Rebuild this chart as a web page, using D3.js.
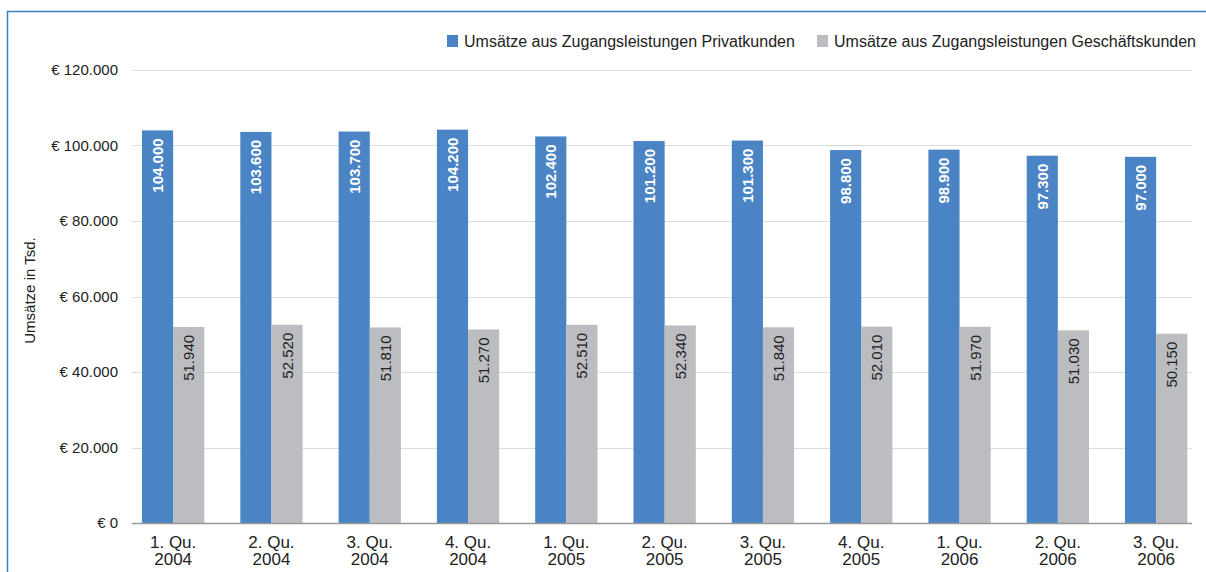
<!DOCTYPE html>
<html>
<head>
<meta charset="utf-8">
<title>Umsätze aus Zugangsleistungen</title>
<script src="https://cdn.jsdelivr.net/npm/d3@7"></script>
<style>
  body { margin: 0; background: #fff; }
  svg { font-family: "Liberation Sans", Arial, Helvetica, sans-serif; }
  .grid line { stroke: #dcdcdc; stroke-width: 1.2px; }
  .tick-label { font-size: 15px; fill: #222; text-anchor: end; }
  .xlab { font-size: 17px; fill: #222; text-anchor: middle; }
</style>
</head>
<body>
<svg id="chart" width="1206" height="572"></svg>
<script>
// Daten
var quartale = ["1. Qu.|2004", "2. Qu.|2004", "3. Qu.|2004", "4. Qu.|2004",
                "1. Qu.|2005", "2. Qu.|2005", "3. Qu.|2005", "4. Qu.|2005",
                "1. Qu.|2006", "2. Qu.|2006", "3. Qu.|2006"];
var privatkunden = [104000, 103600, 103700, 104200, 102400, 101200, 101300, 98800, 98900, 97300, 97000];
var geschaeftskunden = [51940, 52520, 51810, 51270, 52510, 52340, 51840, 52010, 51970, 51030, 50150];
var serienNamen = ["Umsätze aus Zugangsleistungen Privatkunden", "Umsätze aus Zugangsleistungen Geschäftskunden"];
var farben = ["#4a84c4", "#bcbdc1"];
var yTicks = [0, 20000, 40000, 60000, 80000, 100000, 120000];

var svg = d3.select("#chart");
var plotLeft = 132, plotRight = 1192, plotTop = 70, plotBottom = 523;

// Rahmen (blaue Linie links und oben)
svg.append("path")
   .attr("d", "M7.5,572 L7.5,11.5 L1206,11.5")
   .attr("fill", "none")
   .attr("stroke", "#3b7cc0")
   .attr("stroke-width", 1.5);

var y = d3.scaleLinear().domain([0, 120000]).range([plotBottom, plotTop]);

var step = 98.3;
var x0 = d3.scaleBand()
           .domain(quartale)
           .range([124, 124 + step * quartale.length])
           .paddingInner(36 / step)
           .paddingOuter(18 / step);
var x1 = d3.scaleBand()
           .domain([0, 1])
           .range([0, x0.bandwidth()]);

var fmt = function(v) { return d3.format(",")(v).replace(/,/g, "."); };

// Gitterlinien
svg.append("g").attr("class", "grid")
   .selectAll("line")
   .data(yTicks.filter(function(t) { return t > 0; }))
   .enter().append("line")
   .attr("x1", plotLeft).attr("x2", plotRight)
   .attr("y1", function(d) { return Math.round(y(d)) + 0.5; })
   .attr("y2", function(d) { return Math.round(y(d)) + 0.5; });

// y-Achsenbeschriftung
svg.append("g")
   .selectAll("text")
   .data(yTicks)
   .enter().append("text")
   .attr("class", "tick-label")
   .attr("x", 118)
   .attr("y", function(d) { return y(d) + 5; })
   .text(function(d) { return "€ " + fmt(d); });

svg.append("text")
   .attr("transform", "translate(35," + ((plotTop + plotBottom) / 2 - 6) + ") rotate(-90)")
   .attr("text-anchor", "middle")
   .attr("font-size", "15px")
   .attr("fill", "#222")
   .text("Umsätze in Tsd.");

// Balken
var serien = [privatkunden, geschaeftskunden];
var groups = svg.append("g")
   .selectAll("g")
   .data(quartale)
   .enter().append("g")
   .attr("transform", function(d) { return "translate(" + x0(d) + ",0)"; });

groups.selectAll("rect")
   .data(function(d, i) { return serien.map(function(s, k) { return {k: k, v: s[i]}; }); })
   .enter().append("rect")
   .attr("x", function(d) { return x1(d.k); })
   .attr("width", x1.bandwidth())
   .attr("y", function(d) { return y(d.v); })
   .attr("height", function(d) { return plotBottom - y(d.v); })
   .attr("fill", function(d) { return farben[d.k]; });

groups.selectAll("text.val")
   .data(function(d, i) { return serien.map(function(s, k) { return {k: k, v: s[i]}; }); })
   .enter().append("text")
   .attr("class", "val")
   .attr("transform", function(d) {
     return "translate(" + (x1(d.k) + x1.bandwidth() / 2 + 5.5) + "," + (y(d.v) + 8) + ") rotate(-90)";
   })
   .attr("text-anchor", "end")
   .attr("font-size", "15px")
   .attr("font-weight", function(d) { return d.k == 0 ? "bold" : "normal"; })
   .attr("fill", function(d) { return d.k == 0 ? "#fff" : "#222"; })
   .text(function(d) { return fmt(d.v); });

// x-Achse
svg.append("line")
   .attr("x1", plotLeft).attr("x2", plotRight)
   .attr("y1", plotBottom + 0.5).attr("y2", plotBottom + 0.5)
   .attr("stroke", "#999").attr("stroke-width", 1.5);

var xl = svg.append("g")
   .selectAll("text")
   .data(quartale)
   .enter().append("text")
   .attr("class", "xlab")
   .attr("x", function(d) { return x0(d) + x0.bandwidth() / 2; })
   .attr("y", 548);
xl.append("tspan")
  .attr("x", function(d) { return x0(d) + x0.bandwidth() / 2; })
  .text(function(d) { return d.split("|")[0]; });
xl.append("tspan")
  .attr("x", function(d) { return x0(d) + x0.bandwidth() / 2; })
  .attr("dy", 17)
  .text(function(d) { return d.split("|")[1]; });

// Legende
var legX = [447, 817];
var leg = svg.append("g")
   .selectAll("g")
   .data(serienNamen)
   .enter().append("g")
   .attr("transform", function(d, i) { return "translate(" + legX[i] + ",35)"; });
leg.append("rect")
   .attr("width", 11).attr("height", 12)
   .attr("fill", function(d, i) { return farben[i]; });
leg.append("text")
   .attr("x", 17).attr("y", 12)
   .attr("font-size", "16px")
   .attr("fill", "#222")
   .text(function(d) { return d; });
</script>
</body>
</html>
